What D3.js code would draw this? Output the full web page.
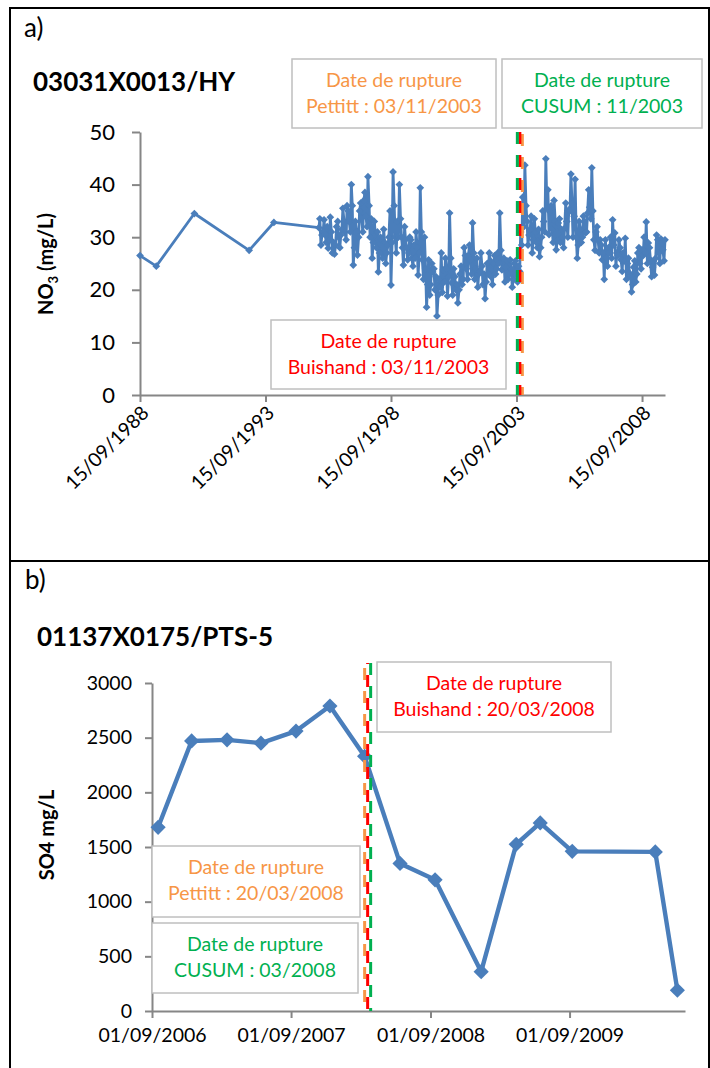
<!DOCTYPE html>
<html><head><meta charset="utf-8">
<script src="https://cdn.jsdelivr.net/npm/d3@7"></script>
<style>
body{margin:0;background:#fff}
svg{display:block}
text{font-family:Lato,"Liberation Sans",sans-serif}
</style>
</head><body>
<svg id="c" width="710" height="1068"></svg>
<script>
// ---------- DATA : panel a (NO3, 03031X0013/HY) ----------
const no3SparseDates  = ["15/09/1988","10/05/1989","15/11/1990","20/01/1993","15/01/1994"];
const no3SparseValues = [26.5, 24.5, 34.5, 27.5, 32.8];
// semi-monthly samples (1st and 15th of each month) starting 01/11/1995
const no3DenseStart = "01/11/1995";
const no3Dense1995 = [31.8, 33.5, 28.5, 30.4];
const no3Dense1996 = [31, 33.3, 30.5, 29, 32, 27.9, 29.5, 33.8, 31, 27, 29, 26.8, 28.5, 32, 33, 30, 28, 30.4, 31.5, 35.5, 33, 31, 29.5, 36];
const no3Dense1997 = [35, 33, 31, 40, 36, 24.7, 28, 33, 31, 26.6, 30, 35, 36.5, 33.6, 31, 37, 38.5, 34, 32, 41.5, 36, 30, 33.5, 26];
const no3Dense1998 = [29, 33, 30.5, 28, 31, 23.4, 27, 30, 29.5, 26, 31.5, 29, 25, 27, 28.5, 30, 35, 20.9, 29, 42.4, 36, 30, 27, 33];
const no3Dense1999 = [30, 40, 33.5, 30, 28, 24.7, 32, 29.5, 28, 25.7, 27, 30, 29.5, 26, 24.5, 28.5, 26, 31, 28, 22.8, 27, 39.4, 31, 25.7];
const no3Dense2000 = [22, 30, 24, 16.7, 21, 25.7, 19, 21, 25, 23.4, 24, 20, 22.5, 15, 19, 22, 20.5, 27, 19.5, 23.8, 21.5, 26, 24, 18.8];
const no3Dense2001 = [22.5, 34.6, 26, 21.3, 19, 24, 22.5, 20, 21, 17.5, 20, 23, 24.5, 21, 22, 28, 26.5, 24, 22, 26.5, 28.5, 25.7, 23, 32.7];
const no3Dense2002 = [27, 22, 24, 26, 20.5, 23, 23.5, 27, 24.5, 21, 23, 18.3, 21.5, 25, 23, 27, 25.5, 22.4, 21, 25, 26.5, 23, 24, 27];
const no3Dense2003 = [25, 34.6, 27.5, 23.8, 24, 26, 21.5, 24.3, 25.5, 22, 23, 25.7, 24, 20.5, 22, 25, 25.5, 22.8, 21.5, 24.5, 23.5, 31, 28.5, 37.6];
const no3Dense2004 = [32, 43.7, 36, 33, 28.5, 30.4, 31.5, 34, 27, 29.5, 33.5, 31, 29, 28, 31.5, 26.3, 28, 30, 35, 33, 31, 44.9, 35.5, 39];
const no3Dense2005 = [30.5, 34.8, 36, 31.5, 29, 37, 33, 27.6, 29.5, 32.7, 33.5, 29, 31.5, 30, 28, 31.7, 36.5, 33, 30, 35.2, 35, 42, 36.5, 30];
const no3Dense2006 = [34, 41, 30, 26, 28.5, 33, 31.5, 29, 30, 34, 33, 30.8, 31, 34.6, 39, 35.7, 33.5, 43.2, 35, 29.5, 27.5, 31, 32, 29.5];
const no3Dense2007 = [27, 29.5, 28.5, 25.7, 27, 22, 29.5, 26, 24.5, 28, 27, 30, 26, 33.3, 28.5, 30.8, 24.5, 27, 26.5, 29.5, 28, 25.7, 23.5, 27];
const no3Dense2008 = [25.5, 29.8, 22, 25, 26, 23.2, 22.5, 19.6, 21, 24.3, 25.5, 21.5, 23, 27, 28, 25, 24, 27.6, 26.5, 30, 27, 32.9, 25, 28.9];
const no3Dense2009 = [28, 25.7, 22.5, 24.3, 25.5, 22.8, 26, 30.4, 29.5, 27, 25, 29.7, 29, 27.6, 25.5, 29.5];
const aXDomain = ["15/09/1988", "15/08/2009"];
const aXTicks = ["15/09/1988","15/09/1993","15/09/1998","15/09/2003","15/09/2008"];
const aYTicks = [0, 10, 20, 30, 40, 50];
const aBreakDate = "03/11/2003";

// ---------- DATA : panel b (SO4, 01137X0175/PTS-5) ----------
const so4Dates = ["17/09/2006","14/12/2006","17/03/2007","14/06/2007","14/09/2007","12/12/2007",
                  "12/03/2008","13/06/2008","13/09/2008","12/01/2009","14/04/2009","16/06/2009",
                  "08/09/2009","14/04/2010","11/06/2010"];
const so4Values = [1680, 2470, 2480, 2450, 2560, 2790, 2330, 1350, 1200, 360, 1525, 1720, 1460, 1455, 190];
const bXDomain = ["01/09/2006", "01/07/2010"];
const bXTicks = ["01/09/2006","01/09/2007","01/09/2008","01/09/2009"];
const bYTicks = [0, 500, 1000, 1500, 2000, 2500, 3000];
const bBreakDate = "20/03/2008";

// ---------- helpers ----------
const parse = d3.timeParse("%d/%m/%Y");
const fmt = d3.timeFormat("%d/%m/%Y");
const BLUE = "#4A7EBB", ORANGE = "#F79646", GREEN = "#00B050", RED = "#FF0000", AXIS = "#868686";
const svg = d3.select("#c");

function styleAxis(g){
  g.select(".domain").attr("stroke", AXIS).attr("stroke-width", 2);
  g.selectAll(".tick line").attr("stroke", AXIS).attr("stroke-width", 2);
  g.selectAll(".tick text").attr("fill", "#000").style("font-family", "Lato");
}
function textBox(x, y, w, h, lines, color){
  svg.append("rect").attr("x", x).attr("y", y).attr("width", w).attr("height", h)
    .attr("fill", "#fff").attr("stroke", "#BFBFBF").attr("stroke-width", 1.5);
  lines.forEach((t, i) => {
    svg.append("text").attr("x", x + w / 2).attr("y", y + 28 + i * 26)
      .attr("text-anchor", "middle").attr("font-size", 19.5).attr("fill", color).text(t);
  });
}
function breakLine(xp, y1, y2, color, offset){
  svg.append("line").attr("x1", xp).attr("x2", xp).attr("y1", y1).attr("y2", y2)
    .attr("stroke", color).attr("stroke-width", 3)
    .attr("stroke-dasharray", "12,11").attr("stroke-dashoffset", offset);
}
const diamond = size => d3.symbol().type(d3.symbolSquare).size(size)();

// ---------- frame ----------
svg.append("path").attr("d", "M10,1068 V8 H709 V1068").attr("fill", "none")
  .attr("stroke", "#000").attr("stroke-width", 2);
svg.append("line").attr("x1", 10).attr("x2", 709).attr("y1", 561).attr("y2", 561)
  .attr("stroke", "#000").attr("stroke-width", 2);

// =================== PANEL A ===================
svg.append("text").attr("x", 24).attr("y", 37).attr("font-size", 26).text("a)");
svg.append("text").attr("x", 33).attr("y", 91).attr("font-size", 26).attr("font-weight", 700).text("03031X0013/HY");

const xA = d3.scaleTime().domain(aXDomain.map(parse)).range([140, 665]);
const yA = d3.scaleLinear().domain([0, 50]).range([395, 132]);

const denseValues = [no3Dense1995, no3Dense1996, no3Dense1997, no3Dense1998, no3Dense1999, no3Dense2000,
  no3Dense2001, no3Dense2002, no3Dense2003, no3Dense2004, no3Dense2005, no3Dense2006, no3Dense2007,
  no3Dense2008, no3Dense2009].flat();
const startD = parse(no3DenseStart);
// sampling calendar: 1st and 15th of each month
const denseDate = i => { const m = d3.timeMonth.offset(startD, Math.floor(i / 2)); return d3.timeDay.offset(m, (i % 2) * 14); };
const no3Data = no3SparseDates.map((d, i) => ({date: parse(d), value: no3SparseValues[i]}))
  .concat(denseValues.map((v, i) => ({date: denseDate(i), value: v})));

const gyA = svg.append("g").attr("transform", "translate(140,0)")
  .call(d3.axisLeft(yA).tickValues(aYTicks).tickSize(8).tickSizeOuter(0).tickPadding(17));
styleAxis(gyA);
gyA.selectAll(".tick text").attr("font-size", 22);

const gxA = svg.append("g").attr("transform", "translate(0,395)")
  .call(d3.axisBottom(xA).tickValues(aXTicks.map(parse)).tickSize(7).tickSizeOuter(0).tickFormat(fmt));
styleAxis(gxA);
gxA.selectAll(".tick text").attr("font-size", 19.5).attr("text-anchor", "end")
  .attr("x", -7).attr("y", 13.5).attr("dy", "0.35em").attr("transform", "rotate(-45)");

// y title
svg.append("text").attr("transform", "translate(53,264) rotate(-90)").attr("text-anchor", "middle")
  .attr("font-size", 20).attr("font-weight", 700)
  .call(t => { t.append("tspan").text("NO");
               t.append("tspan").attr("font-size", 13).attr("dy", 5).text("3");
               t.append("tspan").attr("dy", -5).text(" (mg/L)"); });

// series
svg.append("path").datum(no3Data).attr("fill", "none").attr("stroke", BLUE).attr("stroke-width", 2.8)
  .attr("stroke-linejoin", "round")
  .attr("d", d3.line().x(d => xA(d.date)).y(d => yA(d.value)));
svg.append("g").selectAll("path").data(no3Data).join("path")
  .attr("d", diamond(30)).attr("fill", BLUE)
  .attr("transform", d => `translate(${xA(d.date)},${yA(d.value)}) rotate(45)`);

// break lines
const xa = xA(parse(aBreakDate));
breakLine(xa + 2.5, 132, 395, ORANGE, -2);
breakLine(xa, 132, 395, RED, 0);
breakLine(xa - 2.5, 132, 395, GREEN, 0);

textBox(292, 59, 204, 69, ["Date de rupture", "Pettitt : 03/11/2003"], ORANGE);
textBox(502, 59, 200, 69, ["Date de rupture", "CUSUM : 11/2003"], GREEN);
textBox(271, 320, 235, 69, ["Date de rupture", "Buishand : 03/11/2003"], RED);

// =================== PANEL B ===================
svg.append("text").attr("x", 25).attr("y", 589).attr("font-size", 26).text("b)");
svg.append("text").attr("x", 37).attr("y", 646).attr("font-size", 26).attr("font-weight", 700).text("01137X0175/PTS-5");

const xB = d3.scaleTime().domain(bXDomain.map(parse)).range([152, 685]);
const yB = d3.scaleLinear().domain([0, 3000]).range([1011, 683]);
const so4Data = so4Dates.map((d, i) => ({date: parse(d), value: so4Values[i]}));

const gyB = svg.append("g").attr("transform", "translate(152,0)")
  .call(d3.axisLeft(yB).tickValues(bYTicks).tickSize(7).tickSizeOuter(0).tickPadding(13).tickFormat(d3.format("d")));
styleAxis(gyB);
gyB.selectAll(".tick text").attr("font-size", 19.5);

const gxB = svg.append("g").attr("transform", "translate(0,1011)")
  .call(d3.axisBottom(xB).tickValues(bXTicks.map(parse)).tickSize(7).tickSizeOuter(0).tickPadding(10).tickFormat(fmt));
styleAxis(gxB);
gxB.selectAll(".tick text").attr("font-size", 19.5);

svg.append("text").attr("transform", "translate(54,835) rotate(-90)").attr("text-anchor", "middle")
  .attr("font-size", 20).attr("font-weight", 700).text("SO4 mg/L");

svg.append("path").datum(so4Data).attr("fill", "none").attr("stroke", BLUE).attr("stroke-width", 4.4)
  .attr("stroke-linejoin", "round")
  .attr("d", d3.line().x(d => xB(d.date)).y(d => yB(d.value)));
svg.append("g").selectAll("path").data(so4Data).join("path")
  .attr("d", diamond(115)).attr("fill", BLUE)
  .attr("transform", d => `translate(${xB(d.date)},${yB(d.value)}) rotate(45)`);

const xb = xB(parse(bBreakDate));
breakLine(xb - 3, 663, 1011, ORANGE, -5);
breakLine(xb + 3, 663, 1011, GREEN, 0);
breakLine(xb, 663, 1011, RED, -12);

textBox(377, 662, 234, 70, ["Date de rupture", "Buishand : 20/03/2008"], RED);
textBox(152, 846, 208, 71, ["Date de rupture", "Pettitt : 20/03/2008"], ORANGE);
textBox(152, 923, 206, 70, ["Date de rupture", "CUSUM : 03/2008"], GREEN);
</script>
</body></html>
